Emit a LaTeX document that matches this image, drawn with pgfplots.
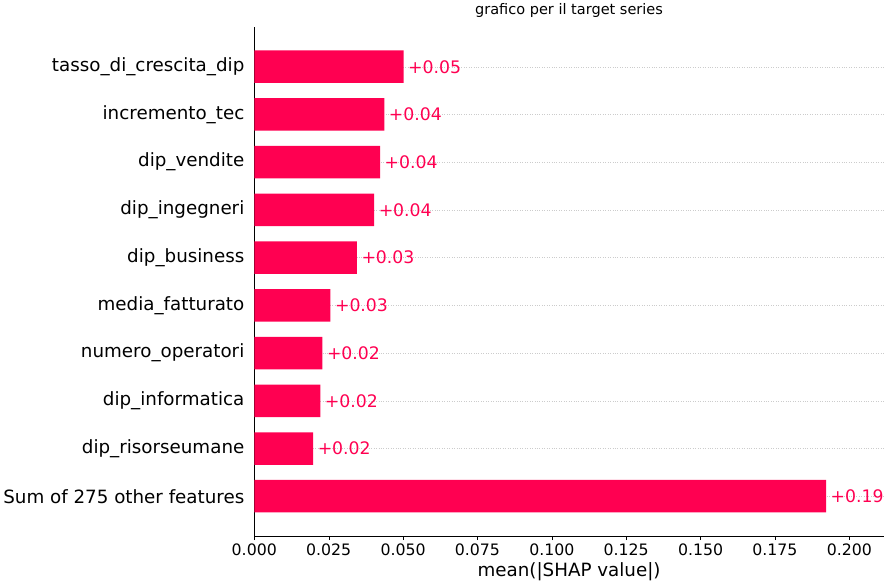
\documentclass[border=0pt]{standalone}
\usepackage{pgfplots}
\pgfplotsset{compat=1.18}
\usepackage{fontspec}
\setmainfont{DejaVu Sans}
\definecolor{shap}{HTML}{FF0051}
\begin{document}
\begin{tikzpicture}
\begin{axis}[
  scale only axis, width=620pt, height=501pt,
  xbar, bar width=32pt, bar shift=0pt,
  y dir=reverse,
  xmin=0, xmax=0.2116, ymin=-0.83, ymax=9.83,
  ytick={0,...,9},
  yticklabels={tasso\_di\_crescita\_dip,incremento\_tec,dip\_vendite,dip\_ingegneri,dip\_business,media\_fatturato,numero\_operatori,dip\_informatica,dip\_risorseumane,Sum of 275 other features},
  yticklabel style={font=\fontsize{18}{20}\selectfont, xshift=-2pt},
  major y tick style={draw=none},
  xtick={0,0.025,...,0.2},
  xticklabel style={font=\fontsize{15.5}{17}\selectfont, /pgf/number format/.cd, fixed, fixed zerofill, precision=3},
  /pgf/number format/assume math mode=true,
  tick align=outside, x tick style={black}, xtick pos=bottom,
  axis x line*=bottom, axis y line*=left,
  ymajorgrids, grid style={gray!40, dotted},
  xlabel={mean(|SHAP value|)}, xlabel style={font=\fontsize{18}{20}\selectfont},
  title={grafico per il target series}, title style={font=\fontsize{14.3}{16}\selectfont},
  nodes near coords, point meta=explicit symbolic,
  every node near coord/.append style={text=shap, font=\fontsize{17}{19}\selectfont, anchor=west, xshift=1pt},
]
\addplot[fill=shap, draw=none] table[x=v, y=i, meta=l] {
i v l
0 0.0502 +0.05
1 0.0437 +0.04
2 0.0423 +0.04
3 0.0403 +0.04
4 0.0345 +0.03
5 0.0256 +0.03
6 0.0229 +0.02
7 0.0222 +0.02
8 0.0198 +0.02
9 0.1922 +0.19
};
\end{axis}
\end{tikzpicture}
\end{document}
